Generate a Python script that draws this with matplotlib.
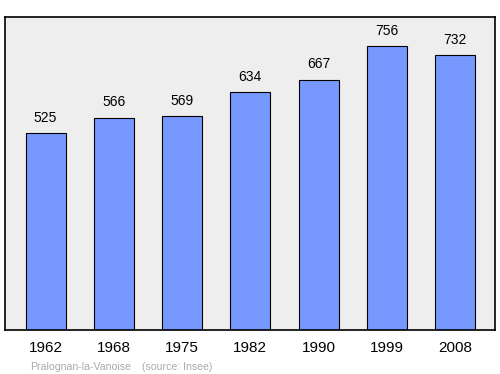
import matplotlib
matplotlib.use("Agg")
import matplotlib.pyplot as plt

annees = ["1962", "1968", "1975", "1982", "1990", "1999", "2008"]
population = [525, 566, 569, 634, 667, 756, 732]

plt.rcParams['font.family'] = ['Liberation Sans', 'DejaVu Sans']

fig = plt.figure(figsize=(5, 3.74), dpi=100)
ax = fig.add_axes([0.01, 0.1176, 0.98, 0.8369])
ax.set_facecolor("#eeeeee")

x = range(len(annees))
ax.bar(x, population, width=0.585, color="#7799ff", edgecolor="black", linewidth=0.8)

for i, v in enumerate(population):
    ax.annotate(str(v), (i, v), xytext=(0, 6), textcoords="offset points",
                ha="center", va="bottom", fontsize=10)

ax.set_xlim(-0.595, 6.585)
ax.set_ylim(0, 834)
ax.set_xticks(list(x))
ax.set_xticklabels(annees, fontsize=11)
ax.tick_params(axis="x", length=0, pad=8)
ax.set_yticks([])
for s in ax.spines.values():
    s.set_linewidth(1.2)

fig.text(0.06, 0.012, "Pralognan-la-Vanoise", color="#aaaaaa", fontsize=7.6)
fig.text(0.284, 0.012, "(source: Insee)", color="#aaaaaa", fontsize=7.6)

fig.savefig("out.png", dpi=100)
